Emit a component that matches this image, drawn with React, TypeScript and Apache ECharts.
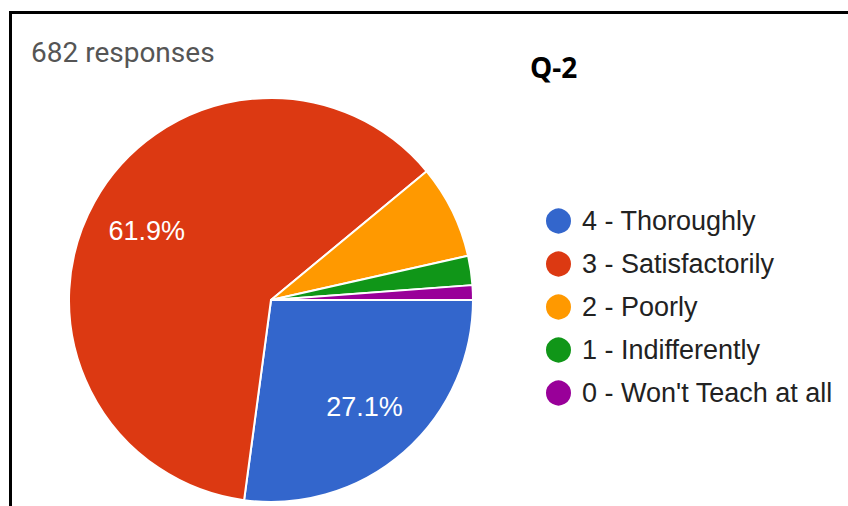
import React, { useEffect, useRef } from "react";
import * as echarts from "echarts";

const categories = [
  "4 - Thoroughly",
  "3 - Satisfactorily",
  "2 - Poorly",
  "1 - Indifferently",
  "0 - Won't Teach at all",
];
const counts = [185, 422, 51, 16, 8];
const colors = ["#3366cc", "#dc3912", "#ff9900", "#109618", "#990099"];
const totalLabel = "682 responses";
const titleText = "Q-2";

export default function App() {
  const ref = useRef<HTMLDivElement>(null);
  useEffect(() => {
    document.body.style.margin = "0";
    const chart = echarts.init(ref.current!, null, { renderer: "svg" });
    const total = counts.reduce((a, b) => a + b, 0);
    const mainData = categories.map((name, i) => ({
      name,
      value: counts[i],
      itemStyle: { color: colors[i] },
    }));
    const labelData = categories.map((name, i) => ({
      name,
      value: counts[i],
      label: { show: counts[i] / total > 0.1 },
    }));
    chart.setOption({
      animation: false,
      graphic: [
        {
          type: "line",
          shape: { x1: 9, y1: 12.5, x2: 848, y2: 12.5 },
          style: { stroke: "#000", lineWidth: 3 },
        },
        {
          type: "line",
          shape: { x1: 10.5, y1: 11, x2: 10.5, y2: 506 },
          style: { stroke: "#000", lineWidth: 3 },
        },
        {
          type: "text",
          x: 31,
          y: 52,
          style: {
            text: totalLabel,
            font: "28px Roboto",
            fill: "#555",
            verticalAlign: "middle",
          },
        },
        {
          type: "text",
          x: 530,
          y: 67,
          style: {
            text: titleText,
            font: "bold 28px 'Open Sans'",
            fill: "#000",
            verticalAlign: "middle",
          },
        },
      ],
      legend: {
        orient: "vertical",
        left: 544,
        top: 206.5,
        padding: 0,
        icon: "circle",
        itemWidth: 27,
        itemHeight: 27,
        itemGap: 14,
        data: categories,
        textStyle: {
          fontFamily: "'Liberation Sans', Arial",
          fontSize: 27,
          color: "#222",
          lineHeight: 29,
          padding: [0, 0, 0, 5],
        },
      },
      series: [
        {
          type: "pie",
          center: [271, 300],
          radius: 202,
          startAngle: 0,
          clockwise: true,
          silent: true,
          label: { show: false },
          labelLine: { show: false },
          itemStyle: { borderColor: "#fff", borderWidth: 2 },
          data: mainData,
        },
        {
          type: "pie",
          center: [271, 300],
          radius: 278,
          startAngle: 0,
          clockwise: true,
          silent: true,
          percentPrecision: 1,
          itemStyle: { color: "rgba(0,0,0,0)", borderWidth: 0 },
          label: {
            position: "inside",
            formatter: "{d}%",
            color: "#fff",
            fontFamily: "'Liberation Sans', Arial",
            fontSize: 27,
          },
          labelLine: { show: false },
          data: labelData,
        },
      ],
    });
    return () => chart.dispose();
  }, []);
  return <div ref={ref} style={{ width: 848, height: 506 }} />;
}
